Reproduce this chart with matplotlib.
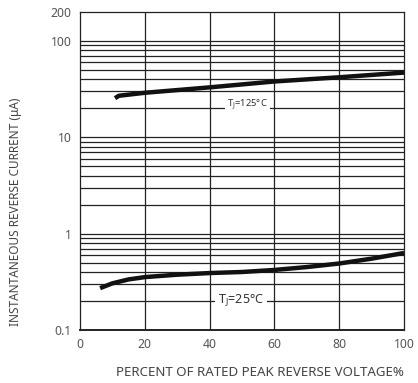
import matplotlib
matplotlib.use("Agg")
import matplotlib.pyplot as plt
import numpy as np

plt.rcParams['font.family'] = ['Noto Sans', 'DejaVu Sans']

# Data
x_125 = [10.8, 12, 20, 40, 60, 80, 100]
y_125 = [25.5, 27, 29, 33, 38, 42, 47]
x_25 = [6.2, 10, 15, 20, 30, 40, 50, 60, 70, 80, 90, 100]
y_25 = [0.272, 0.305, 0.335, 0.354, 0.375, 0.39, 0.40, 0.42, 0.45, 0.49, 0.55, 0.63]

x_ticks = [0, 20, 40, 60, 80, 100]
y_ticks = [0.1, 1, 10, 100, 200]
y_ticklabels = ['0.1', '1', '10', '100', '200']

W, H = 418, 383
fig = plt.figure(figsize=(W / 100, H / 100), dpi=100)
ax = fig.add_axes([0.1914, 0.1384, 0.7751, 0.8303])
ax.set_yscale('log')
ax.set_xlim(0, 100)
ax.set_ylim(0.1, 200)

gc = '#222222'
# horizontal grid lines
for dec in [0.1, 1, 10]:
    for m in range(1, 10):
        v = dec * m
        if v <= 0.1:
            continue
        ax.axhline(v, color=gc, lw=0.9, zorder=1)
ax.axhline(100, color=gc, lw=0.9, zorder=1)
for xv in [20, 40, 60, 80]:
    ax.axvline(xv, color=gc, lw=0.9, zorder=1)

ax.plot(x_125, y_125, color='#111111', lw=3.2, solid_capstyle='butt', zorder=3)
ax.plot(x_25, y_25, color='#111111', lw=3.2, solid_capstyle='butt', zorder=3)

ax.text(45.5, 21.5, 'T$_\\mathregular{J}$=125°C', fontsize=6.8, color='#333333',
        ha='left', va='center', zorder=4,
        bbox=dict(facecolor='white', edgecolor='none', pad=1.5))
ax.text(42.5, 0.205, 'T$_\\mathregular{J}$=25°C', fontsize=9, color='#333333',
        ha='left', va='center', zorder=4,
        bbox=dict(facecolor='white', edgecolor='none', pad=2))

ax.set_xticks(x_ticks)
ax.set_xticklabels([str(t) for t in x_ticks])
ax.set_yticks(y_ticks)
ax.set_yticklabels(y_ticklabels)
ax.yaxis.set_minor_locator(matplotlib.ticker.NullLocator())
ax.tick_params(axis='both', length=0, labelsize=8.8, labelcolor='#555555', pad=6)

for s in ax.spines.values():
    s.set_color('#222222')
    s.set_linewidth(0.9)
ax.spines['bottom'].set_linewidth(1.4)

fig.text(260 / W, 1 - 372 / H, 'PERCENT OF RATED PEAK REVERSE VOLTAGE%', fontsize=9.6,
         color='#444444', ha='center', va='center')
fig.text(16 / W, 1 - 212 / H, 'INSTANTANEOUS REVERSE CURRENT (μA)', fontsize=8.5,
         color='#444444', ha='center', va='center', rotation=90)

fig.savefig('out.png', dpi=100)
